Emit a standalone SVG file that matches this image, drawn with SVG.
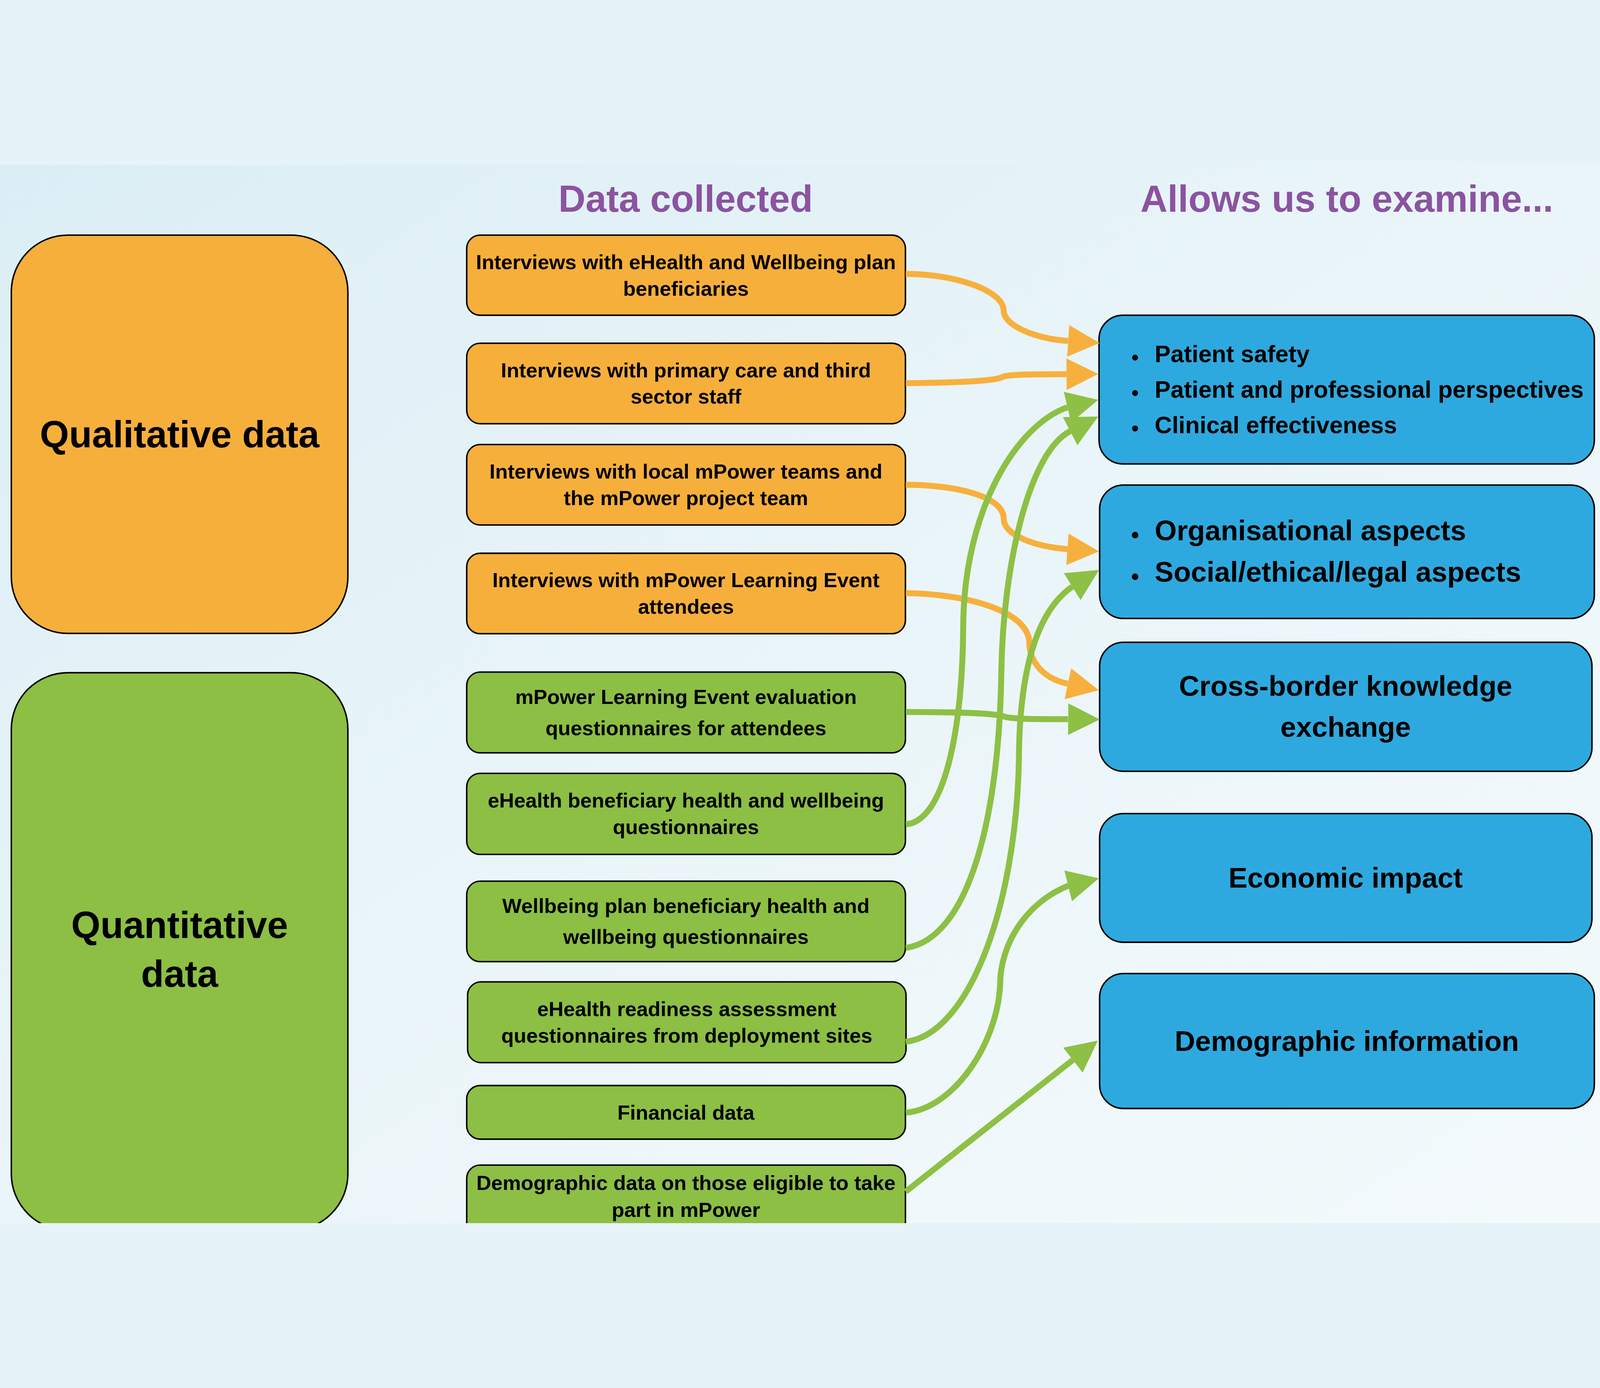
<svg xmlns="http://www.w3.org/2000/svg" xmlns:xlink="http://www.w3.org/1999/xlink" width="5372" height="3553" viewBox="0 0 5372 3553" style="width:100vw;height:100vh;background:#E6F3F8;overflow:hidden">
<defs>
<linearGradient id="bg" x1="0" y1="0" x2="1" y2="1">
<stop offset="0" stop-color="#DBEEF5"/>
<stop offset="0.5" stop-color="#EAF5F9"/>
<stop offset="1" stop-color="#F4FAFC"/>
</linearGradient>
<clipPath id="page"><rect x="0" y="0" width="5372" height="3553"/></clipPath>
<polygon id="ah" points="0,-53 106,0 0,53"/>
</defs>
<style>
text{font-family:"Liberation Sans",Arial,Helvetica,sans-serif;font-weight:bold;fill:#000}
.hdr{font-size:126px;fill:#8B53A0;text-anchor:middle}
.big{font-size:126px;text-anchor:middle}
.mid{font-size:69px;text-anchor:middle}
.rt{font-size:95px;text-anchor:middle}
.la{font-size:80px}
.lb{font-size:95px}
.qual{fill:#F7AF3C;stroke:#000;stroke-width:5}
.quan{fill:#8CBF44;stroke:#000;stroke-width:5}
.out{fill:#2EA9DF;stroke:#000;stroke-width:5}
.eo{fill:none;stroke:#F7B03D;stroke-width:20}
.eg{fill:none;stroke:#8DC045;stroke-width:20}
.ao{fill:#F7B03D}
.ag{fill:#8DC045}
.dot{fill:#000}
</style>
<g clip-path="url(#page)">
<rect x="0" y="0" width="5372" height="3553" fill="url(#bg)"/>

<g id="headers">
<text class="hdr" x="2302" y="157">Data collected</text>
<text class="hdr" x="4522" y="157">Allows us to examine...</text>
</g>

<g id="qualitative">
<rect class="qual" x="38" y="236" width="1130" height="1337" rx="190" ry="190"/>
<text class="big" x="603" y="948">Qualitative data</text>
</g>
<g id="quantitative">
<rect class="quan" x="38" y="1705" width="1130" height="1872" rx="190" ry="190"/>
<text class="big" x="603" y="2596">Quantitative</text>
<text class="big" x="603" y="2760">data</text>
</g>

<g id="d1">
<rect class="qual" x="1567" y="236" width="1473" height="269" rx="45"/>
<text class="mid" x="2303" y="350">Interviews with eHealth and Wellbeing plan</text>
<text class="mid" x="2303" y="440">beneficiaries</text>
</g>
<g id="d2">
<rect class="qual" x="1567" y="599" width="1473" height="270" rx="45"/>
<text class="mid" x="2303" y="714">Interviews with primary care and third</text>
<text class="mid" x="2303" y="801">sector staff</text>
</g>
<g id="d3">
<rect class="qual" x="1567" y="939" width="1473" height="270" rx="45"/>
<text class="mid" x="2303" y="1053">Interviews with local mPower teams and</text>
<text class="mid" x="2303" y="1142">the mPower project team</text>
</g>
<g id="d4">
<rect class="qual" x="1567" y="1304" width="1473" height="270" rx="45"/>
<text class="mid" x="2303" y="1418">Interviews with mPower Learning Event</text>
<text class="mid" x="2303" y="1507">attendees</text>
</g>
<g id="d5">
<rect class="quan" x="1567" y="1703" width="1473" height="271" rx="45"/>
<text class="mid" x="2303" y="1810">mPower Learning Event evaluation</text>
<text class="mid" x="2303" y="1915">questionnaires for attendees</text>
</g>
<g id="d6">
<rect class="quan" x="1567" y="2043" width="1473" height="272" rx="45"/>
<text class="mid" x="2303" y="2158">eHealth beneficiary health and wellbeing</text>
<text class="mid" x="2303" y="2247">questionnaires</text>
</g>
<g id="d7">
<rect class="quan" x="1567" y="2405" width="1473" height="270" rx="45"/>
<text class="mid" x="2303" y="2512">Wellbeing plan beneficiary health and</text>
<text class="mid" x="2303" y="2615">wellbeing questionnaires</text>
</g>
<g id="d8">
<rect class="quan" x="1570" y="2743" width="1472" height="271" rx="45"/>
<text class="mid" x="2306" y="2858">eHealth readiness assessment</text>
<text class="mid" x="2306" y="2947">questionnaires from deployment sites</text>
</g>
<g id="d9">
<rect class="quan" x="1567" y="3091" width="1473" height="180" rx="45"/>
<text class="mid" x="2303" y="3205">Financial data</text>
</g>
<g id="d10">
<rect class="quan" x="1567" y="3358" width="1473" height="262" rx="45"/>
<text class="mid" x="2303" y="3442">Demographic data on those eligible to take</text>
<text class="mid" x="2303" y="3532">part in mPower</text>
</g>

<g id="o1">
<rect class="out" x="3690" y="505" width="1663" height="499" rx="80"/>
<circle class="dot" cx="3811" cy="647" r="10"/>
<circle class="dot" cx="3811" cy="766" r="10"/>
<circle class="dot" cx="3811" cy="885" r="10"/>
<text class="la" x="3877" y="663">Patient safety</text>
<text class="la" x="3877" y="782">Patient and professional perspectives</text>
<text class="la" x="3877" y="901">Clinical effectiveness</text>
</g>
<g id="o2">
<rect class="out" x="3692" y="1075" width="1661" height="448" rx="80"/>
<circle class="dot" cx="3811" cy="1243" r="11"/>
<circle class="dot" cx="3811" cy="1383" r="11"/>
<text class="lb" x="3877" y="1260">Organisational aspects</text>
<text class="lb" x="3877" y="1400">Social/ethical/legal aspects</text>
</g>
<g id="o3">
<rect class="out" x="3692" y="1603" width="1653" height="433" rx="80"/>
<text class="rt" x="4518" y="1783">Cross-border knowledge</text>
<text class="rt" x="4518" y="1920">exchange</text>
</g>
<g id="o4">
<rect class="out" x="3692" y="2178" width="1653" height="432" rx="80"/>
<text class="rt" x="4518" y="2427">Economic impact</text>
</g>
<g id="o5">
<rect class="out" x="3692" y="2715" width="1661" height="453" rx="80"/>
<text class="rt" x="4522" y="2974">Demographic information</text>
</g>

<g id="connectors">
<path class="eo" d="M3041,366 C3200,366 3370,420 3370,490 C3370,540 3480,585 3586,591"/>
<path class="eo" d="M3041,733 C3250,731 3345,724 3366,712 C3385,704 3450,703 3581,703"/>
<path class="eo" d="M3041,1074 C3200,1074 3370,1110 3370,1188 C3370,1245 3480,1282 3584,1290"/>
<path class="eo" d="M3041,1438 C3250,1440 3455,1500 3456,1605 C3456,1655 3490,1722 3585,1742"/>
<path class="eg" d="M3041,1837 C3250,1837 3340,1842 3370,1852 C3395,1860 3450,1861 3586,1861"/>
<path class="eg" d="M3041,2214 C3170,2205 3232,1900 3234,1550 C3236,1150 3420,870 3584,814"/>
<path class="eg" d="M3041,2629 C3250,2600 3355,2200 3362,1700 C3368,1350 3453,967 3593,894"/>
<path class="eg" d="M3041,2944 C3250,2920 3410,2500 3421,2000 C3422,1700 3480,1500 3600,1416"/>
<path class="eg" d="M3041,3182 C3200,3170 3350,2950 3358,2750 C3359,2620 3440,2480 3587,2420"/>
<path class="eg" d="M3041,3447 L3602,3005"/>
<use xlink:href="#ah" href="#ah" class="ao" transform="translate(3586.5,591) rotate(3.8)"/>
<use xlink:href="#ah" href="#ah" class="ao" transform="translate(3581,703) rotate(-0.5)"/>
<use xlink:href="#ah" href="#ah" class="ao" transform="translate(3584,1290.5) rotate(4)"/>
<use xlink:href="#ah" href="#ah" class="ao" transform="translate(3585.5,1742) rotate(11.9)"/>
<use xlink:href="#ah" href="#ah" class="ag" transform="translate(3586.5,1861) rotate(0.5)"/>
<use xlink:href="#ah" href="#ah" class="ag" transform="translate(3584,813.6) rotate(-13.4)"/>
<use xlink:href="#ah" href="#ah" class="ag" transform="translate(3593,894) rotate(-27.5)"/>
<use xlink:href="#ah" href="#ah" class="ag" transform="translate(3600,1416) rotate(-31.9)"/>
<use xlink:href="#ah" href="#ah" class="ag" transform="translate(3586.5,2420.5) rotate(-13.8)"/>
<use xlink:href="#ah" href="#ah" class="ag" transform="translate(3602.5,3005.5) rotate(-38.1)"/>
</g>
</g>
</svg>
